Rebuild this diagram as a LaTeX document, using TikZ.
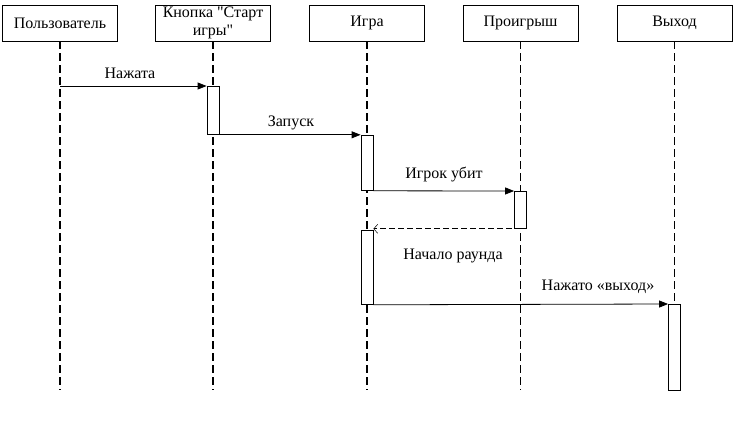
\documentclass[tikz,border=0pt]{standalone}
\usepackage{fontspec}
\setmainfont{Liberation Serif}[Ligatures=TeXOff]
\usetikzlibrary{arrows.meta}
\begin{document}
\begin{tikzpicture}[x=1pt,y=-1pt,
  lbox/.style={draw,line width=0.8pt,minimum width=115pt,minimum height=36pt,inner sep=0pt,align=center,font=\fontsize{16}{18}\selectfont},
  life/.style={line width=1.9pt,dash pattern=on 8pt off 4pt},
  act/.style={draw,fill=white,line width=0.8pt,minimum width=12pt,inner sep=0pt,anchor=north},
  msg/.style={line width=0.8pt,-{Triangle[length=9pt,width=7pt]}},
  ret/.style={line width=0.8pt,dash pattern=on 6pt off 3pt,-{Straight Barb[length=4pt,width=9pt,line width=0.5pt]}},
  lbl/.style={font=\fontsize{16}{18}\selectfont,inner sep=0pt}]
\useasboundingbox (0,0) rectangle (734,439);
\fill[white] (0,0) rectangle (734,439);
\node[lbox] (u) at (60,23) {Пользователь};
\node[lbox] (k) at (213,23) {Кнопка "Старт\\игры"};
\node[lbox] (g) at (367,23) {Игра};
\node[lbox] (p) at (520.5,23) {Проигрыш};
\node[lbox] (v) at (674.5,23) {Выход};
\coordinate (ue) at (60,390);
\coordinate (ke) at (213,390);
\coordinate (ge) at (367,390);
\coordinate (pe) at (520.5,390);
\coordinate (ve) at (674.5,390);
\draw[life] (u.south) -- (ue);
\draw[life] (k.south) -- (ke);
\draw[life] (g.south) -- (ge);
\draw[life] (p.south) -- (pe);
\draw[life] (v.south) -- (ve);
\node[act,minimum height=48pt] (a1) at (213,86) {};
\node[act,minimum height=55pt] (a2) at (367,135) {};
\node[act,minimum height=37pt] (a3) at (520.5,191) {};
\node[act,minimum height=74pt] (a4) at (367,230) {};
\node[act,minimum height=86pt] (a5) at (674.5,304) {};
\draw[msg] (u.south |- a1.north) -- (a1.north west);
\draw[msg] (a1.south east) -- (a1.south east -| a2.west);
\draw[msg] (a2.south east) -- (a3.north west);
\draw[ret] (a3.south) -- (a3.south -| a4.east);
\draw[msg] (a4.south east) -- (a5.north west);
\node[lbl] (m1) at (130,73) {Нажата};
\node[lbl] (m2) at (291,123) {Запуск};
\node[lbl] (m3) at (444,174) {Игрок убит};
\node[lbl] (m4) at (453,256) {Начало раунда};
\node[lbl] (m5) at (598,287) {Нажато «выход»};
\end{tikzpicture}
\end{document}
